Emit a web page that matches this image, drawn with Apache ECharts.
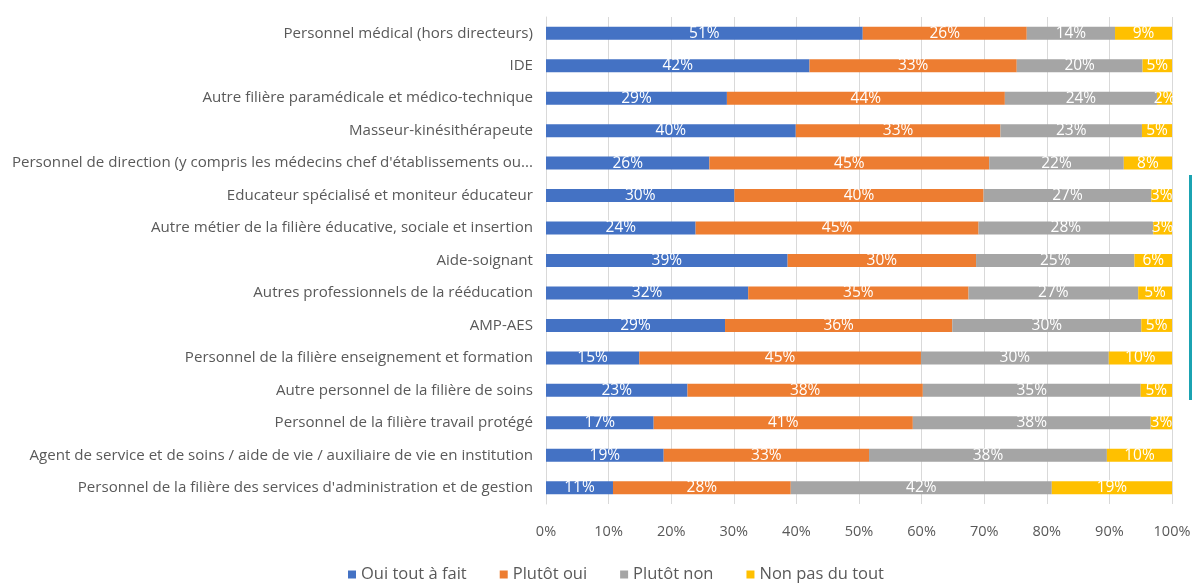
<!DOCTYPE html>
<html><head><meta charset="utf-8">
<script src="https://cdn.jsdelivr.net/npm/echarts@6/dist/echarts.min.js"></script>
<style>html,body{margin:0;padding:0;background:#fff}#c{width:1195px;height:583px}</style>
</head><body><div id="c"></div>
<script>
const categories = [
  "Personnel médical (hors directeurs)",
  "IDE",
  "Autre filière paramédicale et médico-technique",
  "Masseur-kinésithérapeute",
  "Personnel de direction (y compris les médecins chef d'établissements ou...",
  "Educateur spécialisé et moniteur éducateur",
  "Autre métier de la filière éducative, sociale et insertion",
  "Aide-soignant",
  "Autres professionnels de la rééducation",
  "AMP-AES",
  "Personnel de la filière enseignement et formation",
  "Autre personnel de la filière de soins",
  "Personnel de la filière travail protégé",
  "Agent de service et de soins / aide de vie / auxiliaire de vie en institution",
  "Personnel de la filière des services d'administration et de gestion"
];
const seriesNames = ["Oui tout à fait", "Plutôt oui", "Plutôt non", "Non pas du tout"];
const ouiToutAFait = [50.6, 42.1, 28.9, 39.9, 26.1, 30.1, 23.9, 38.6, 32.3, 28.6, 14.9, 22.6, 17.2, 18.8, 10.7];
const plutotOui    = [26.2, 33.1, 44.4, 32.7, 44.7, 39.8, 45.2, 30.1, 35.2, 36.3, 45.0, 37.6, 41.4, 32.8, 28.4];
const plutotNon    = [14.1, 20.1, 24.3, 22.6, 21.5, 26.8, 27.9, 25.3, 27.1, 30.2, 30.0, 34.8, 38.0, 38.0, 41.7];
const nonPasDuTout = [ 9.1,  4.7,  2.4,  4.8,  7.7,  3.3,  3.0,  6.0,  5.4,  4.9, 10.1,  5.0,  3.4, 10.4, 19.2];
const xTicks = [0, 10, 20, 30, 40, 50, 60, 70, 80, 90, 100];
const colors = ["#4472C4", "#ED7D31", "#A5A5A5", "#FFC000"];
const values = [ouiToutAFait, plutotOui, plutotNon, nonPasDuTout];
const FONT = 'Open Sans, Liberation Sans, sans-serif';

const chart = echarts.init(document.getElementById('c'));
chart.setOption({
  animation: false,
  color: colors,
  grid: {left: 546, right: 23, top: 17, bottom: 79, containLabel: false},
  legend: {
    bottom: -5, left: 343, itemWidth: 8, itemHeight: 8, itemGap: 33,
    icon: 'rect',
    textStyle: {color: '#595959', fontSize: 16.5, fontFamily: FONT},
    data: seriesNames
  },
  xAxis: {
    type: 'value', min: 0, max: 100, interval: 10,
    axisLine: {show: false}, axisTick: {show: false},
    splitLine: {lineStyle: {color: '#D9D9D9'}},
    axisLabel: {formatter: v => xTicks.includes(v) ? v + '%' : '', color: '#595959', fontSize: 14.5, margin: 20,
      fontFamily: FONT}
  },
  yAxis: {
    type: 'category', data: categories, inverse: true,
    axisLine: {lineStyle: {color: '#D9D9D9'}}, axisTick: {show: false},
    axisLabel: {color: '#595959', fontSize: 15.1, margin: 13, fontFamily: FONT}
  },
  graphic: [{type: 'rect', shape: {x: 1189, y: 175, width: 3, height: 225}, style: {fill: '#1BA3B2'}}],
  series: seriesNames.map((n, i) => ({
    name: n, type: 'bar', stack: 'total', barWidth: 13,
    data: values[i],
    label: {show: true, position: 'inside', color: '#fff', fontSize: 15.5,
      fontFamily: FONT,
      formatter: p => Math.round(p.value) + '%'}
  }))
});
</script></body></html>
